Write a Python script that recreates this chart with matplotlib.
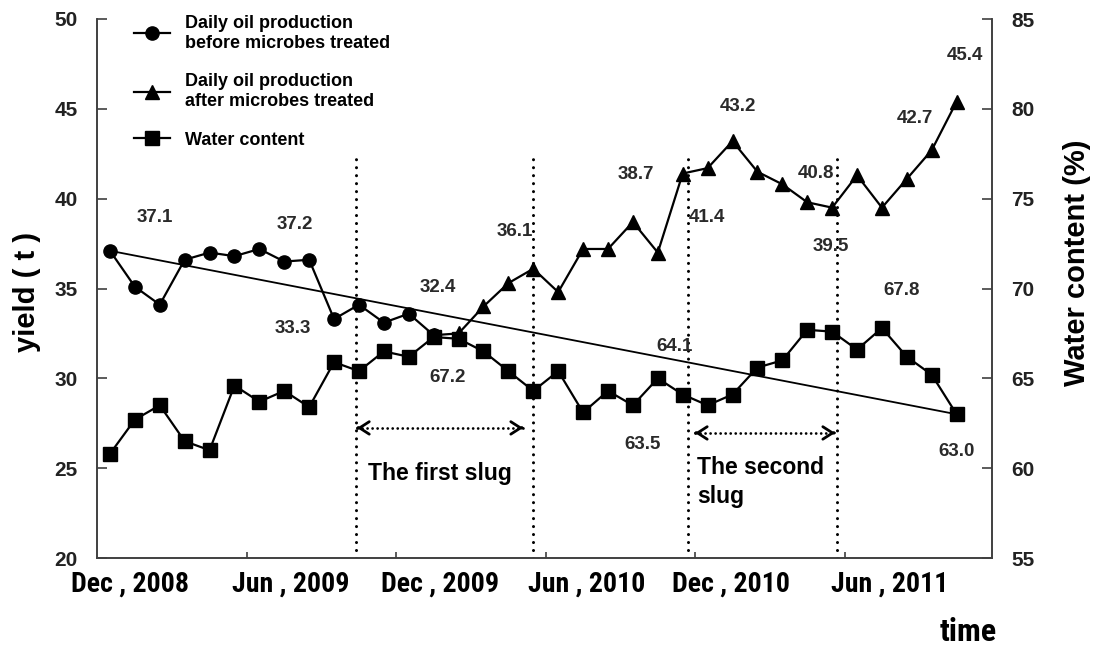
import matplotlib
matplotlib.use('Agg')
import matplotlib.pyplot as plt
from matplotlib import font_manager
from matplotlib.font_manager import FontProperties
import matplotlib.transforms as mtransforms

names = {f.name for f in font_manager.fontManager.ttflist}
base = 'Liberation Sans' if 'Liberation Sans' in names else 'DejaVu Sans'
plt.rcParams['font.family'] = [base, 'DejaVu Sans']
plt.rcParams['font.weight'] = 'bold'

# find a condensed / narrow bold face for the category labels, if any
cond_file = None
prefs = ['Liberation Sans Narrow', 'Roboto Condensed', 'Open Sans Condensed', 'DejaVu Sans']
cands = []
for f in font_manager.fontManager.ttflist:
    isnarrow = ('Narrow' in f.name or 'Condensed' in f.name or
                str(f.stretch) in ('condensed', 'semi-condensed', 'extra-condensed'))
    wt = f.weight if isinstance(f.weight, int) else (700 if 'bold' in str(f.weight) else 400)
    if isnarrow and wt >= 600 and 'Oblique' not in f.fname and 'Italic' not in f.fname:
        rank = next((i for i, p in enumerate(prefs) if f.name.startswith(p)), len(prefs))
        cands.append((rank, f.fname))
if cands:
    cands.sort()
    cond_file = cands[0][1]

# ---------------- data ----------------
month_idx = list(range(35))                 # Dec 2008 ... Oct 2011 (monthly)
x_labels = ['Dec , 2008', 'Jun , 2009', 'Dec , 2009', 'Jun , 2010', 'Dec , 2010', 'Jun , 2011']

before_idx = list(range(0, 14))
before_vals = [37.1, 35.1, 34.1, 36.6, 37.0, 36.8, 37.2, 36.5, 36.6, 33.3, 34.1, 33.1, 33.6, 32.4]

after_idx = list(range(13, 35))
after_vals = [32.4, 32.5, 34.0, 35.3, 36.1, 34.8, 37.2, 37.2, 38.7, 37.0, 41.4, 41.7,
              43.2, 41.5, 40.8, 39.8, 39.5, 41.3, 39.5, 41.1, 42.7, 45.4]

water_vals = [60.8, 62.7, 63.5, 61.5, 61.0, 64.6, 63.7, 64.3, 63.4, 65.9,
              65.4, 66.5, 66.2, 67.3, 67.2, 66.5, 65.4, 64.3, 65.4, 63.1,
              64.3, 63.5, 65.0, 64.1, 63.5, 64.1, 65.6, 66.0, 67.7, 67.6,
              66.6, 67.8, 66.2, 65.2, 63.0]

value_labels = ['37.1', '37.2', '33.3', '32.4', '67.2', '36.1', '38.7', '63.5', '64.1',
                '41.4', '43.2', '40.8', '39.5', '67.8', '42.7', '45.4', '63.0']

legend_labels = ['Daily oil production\nbefore microbes treated',
                 'Daily oil production\nafter microbes treated',
                 'Water content']
slug_labels = ['The first slug', 'The second\nslug']

# ---------------- layout / positions ----------------
W, H = 1099, 649
left_lim = (20, 50)
right_lim = (55, 85)
shift = right_lim[0] - left_lim[0]

value_label_pos = [(1.81, 38.93), (7.43, 38.54), (7.35, 32.75), (13.17, 35.03), (13.57, 30.02),
                   (16.27, 38.15), (21.12, 41.33), (21.37, 26.29), (22.69, 31.75),
                   (23.98, 38.93), (25.22, 45.11), (28.35, 41.38), (28.96, 37.32),
                   (31.80, 34.87), (32.33, 44.44), (34.34, 47.95), (33.98, 25.90)]
x_label_pos = [0.8, 7.27, 13.25, 19.16, 24.94, 31.33]
tick_pos = [5.5, 11.5, 17.5, 23.5, 29.5]
slug_bounds = [9.9, 17.0, 23.2, 29.2]
slug_tops = [42.44, 42.44, 42.27, 42.27]
arrows = [(9.92, 16.59, 27.24), (23.49, 29.12, 26.96)]

fig = plt.figure(figsize=(W / 100, H / 100), dpi=100)
ax = fig.add_axes([97 / W, 1 - 558 / H, (992 - 97) / W, (558 - 19) / H])
ax2 = ax.twinx()

spine_col = '#404040'
for a in (ax, ax2):
    a.spines['top'].set_visible(False)
    for s in ('left', 'right', 'bottom'):
        a.spines[s].set_color(spine_col)
        a.spines[s].set_linewidth(1.2)
    a.patch.set_visible(False)

ax.set_xlim(-0.52, 35.42)
ax.set_ylim(*left_lim)
ax2.set_ylim(*right_lim)

ax.set_xticks(tick_pos)
ax.set_xticklabels([])
ax.tick_params(axis='x', direction='in', length=4, width=1.2, color=spine_col)
ax.set_yticks(range(20, 51, 5))
ax.tick_params(axis='y', direction='in', length=7, width=1.2, color=spine_col,
               labelsize=15, pad=14)
ax2.set_yticks(range(55, 86, 5))
ax2.tick_params(axis='y', direction='in', length=7, width=1.2, color=spine_col,
                labelsize=15, pad=14)
for t in ax.get_yticklabels() + ax2.get_yticklabels():
    t.set_fontweight('bold')
    t.set_color('#222222')

# series
l1, = ax.plot(before_idx, before_vals, color='k', lw=1.6, marker='o', ms=9.5, zorder=4)
l2, = ax.plot(after_idx, after_vals, color='k', lw=1.6, marker='^', ms=10.5, zorder=4)
l3, = ax2.plot(month_idx, water_vals, color='k', lw=1.6, marker='s', ms=10, zorder=4)

# straight line from first oil value to last water value
ax.plot([month_idx[0], month_idx[-1]], [before_vals[0], water_vals[-1] - shift],
        color='k', lw=1.3, zorder=3)

# slug boundaries (dotted verticals)
for xv, top in zip(slug_bounds, slug_tops):
    ax.plot([xv, xv], [left_lim[0], top], color='k', lw=2.2,
            linestyle=(0, (0.01, 2.6)), dash_capstyle='round', zorder=2)

# dotted double arrows
for x0, x1, yv in arrows:
    ax.plot([x0, x1], [yv, yv], color='k', lw=2.0,
            linestyle=(0, (0.01, 1.8)), dash_capstyle='round', zorder=2)
    for xa, xb in ((x0, x0 + 0.05), (x1, x1 - 0.05)):
        ax.annotate('', xy=(xa, yv), xytext=(xb, yv),
                    arrowprops=dict(arrowstyle='->,head_length=0.7,head_width=0.45',
                                    lw=2.0, color='k', shrinkA=0, shrinkB=0),
                    annotation_clip=False)

# slug texts
ax2.text(10.36, 24.73, slug_labels[0], transform=ax.transData, fontsize=16.5,
         ha='left', va='center', color='k')
ax2.text(23.57, 24.23, slug_labels[1], transform=ax.transData, fontsize=16.5,
         ha='left', va='center', color='k', linespacing=1.3)

# value labels
for txt, (xv, yv) in zip(value_labels, value_label_pos):
    ax2.text(xv, yv, txt, transform=ax.transData, fontsize=13.5, ha='center',
             va='center', color='#2a2a2a', zorder=6)

# x category labels (condensed face if available, sized to the reference width)
renderer = fig.canvas.get_renderer()
if cond_file:
    xl_fp = FontProperties(fname=cond_file, size=19)
else:
    xl_fp = FontProperties(family=base, weight='bold', size=19)
trans = mtransforms.blended_transform_factory(ax.transData, ax.transAxes)
probe = fig.text(0, 0, x_labels[0], fontproperties=xl_fp)
wpx = probe.get_window_extent(renderer).width
probe.remove()
xl_size = min(22.0, 19 * 118.0 / wpx)
xl_fp.set_size(xl_size)
for txt, xv in zip(x_labels, x_label_pos):
    ax.text(xv, -0.048, txt, transform=trans, ha='center', va='center',
            fontproperties=xl_fp, color='k')

# axis titles
fig.text(27 / W, 1 - 292 / H, 'yield ( t )', rotation=90, ha='center', va='center',
         fontsize=21, color='k')
fig.text(1077 / W, 1 - 263 / H, 'Water content (%)', rotation=90, ha='center',
         va='center', fontsize=21, color='k')
time_fp = xl_fp.copy()
time_fp.set_size(min(24.0, xl_size * 1.15))
fig.text(968 / W, 1 - 632 / H, 'time', ha='center', va='center',
         fontproperties=time_fp, color='k')

# legend
leg = fig.legend([l1, l2, l3], legend_labels, loc='upper left',
                 bbox_to_anchor=(134 / W, 1 - 15 / H), frameon=False, fontsize=13,
                 handlelength=2.0, handletextpad=0.8, labelspacing=1.2,
                 borderpad=0, borderaxespad=0, numpoints=1)
for t in leg.get_texts():
    t.set_linespacing(1.2)
    t.set_fontweight('bold')

fig.savefig('out.png', dpi=100)
